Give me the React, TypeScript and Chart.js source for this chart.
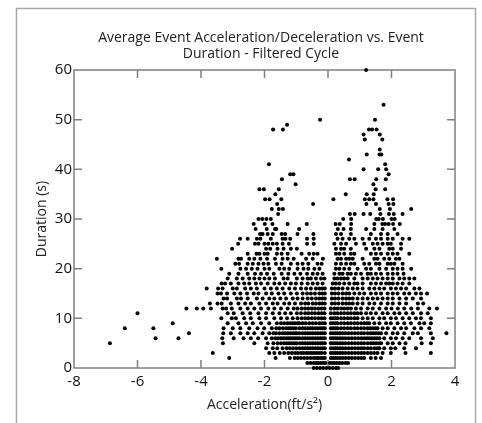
import React, { useEffect, useRef } from "react";
import { Chart, registerables } from "chart.js";

Chart.register(...registerables);

const titleLines = ["Average Event Acceleration/Deceleration vs. Event", "Duration - Filtered Cycle"];
const xAxisTitle = "Acceleration(ft/s²)";
const yAxisTitle = "Duration (s)";
const xTickValues = [-8, -6, -4, -2, 0, 2, 4];
const yTickValues = [0, 10, 20, 30, 40, 50, 60];

// Durations (s) are recorded on whole-second levels 0..35
const durationLevels = [
  0, 1, 2, 3, 4, 5, 6, 7, 8, 9, 10, 11, 12, 13, 14, 15, 16, 17, 18, 19, 20,
  21, 22, 23, 24, 25, 26, 27, 28, 29, 30, 31, 32, 33, 34, 35,
];

// Decelerations (negative accel) at each duration level
const decelAtLevel: number[][] = [
  [-0.45, -0.35, -0.25, -0.15, -0.05],
  [-0.65, -0.55, -0.45, -0.37, -0.3, -0.22, -0.15, -0.08],
  [-3.11, -1.65, -1.2, -1.05, -0.95, -0.85, -0.75, -0.65, -0.55, -0.45, -0.37, -0.3, -0.22, -0.16, -0.1],
  [-3.63, -1.85, -1.69, -1.52, -1.38, -1.25, -1.14, -1.04, -0.95, -0.85, -0.77, -0.68, -0.6, -0.52, -0.44, -0.36, -0.28, -0.2, -0.1],
  [-1.95, -1.74, -1.6, -1.43, -1.3, -1.2, -1.1, -1.0, -0.9, -0.8, -0.72, -0.64, -0.56, -0.48, -0.4, -0.32, -0.24, -0.17, -0.1],
  [-6.87, -3.31, -2.32, -1.9, -1.72, -1.59, -1.48, -1.38, -1.3, -1.22, -1.14, -1.06, -0.98, -0.88, -0.8, -0.72, -0.64, -0.56, -0.48, -0.4, -0.32, -0.24, -0.17, -0.1],
  [-5.43, -4.71, -3.33, -2.97, -2.66, -2.43, -2.2, -1.95, -1.77, -1.66, -1.57, -1.48, -1.4, -1.32, -1.25, -1.18, -1.11, -1.04, -0.97, -0.9, -0.8, -0.72, -0.64, -0.56, -0.48, -0.4, -0.32, -0.24, -0.17, -0.1],
  [-4.38, -3.3, -3.06, -2.76, -2.53, -2.32, -2.06, -1.85, -1.72, -1.64, -1.53, -1.43, -1.35, -1.27, -1.19, -1.11, -1.04, -0.98, -0.9, -0.8, -0.72, -0.64, -0.56, -0.48, -0.4, -0.32, -0.24, -0.17, -0.1],
  [-6.4, -5.5, -3.29, -3.0, -2.76, -2.48, -2.22, -2.01, -1.77, -1.63, -1.53, -1.42, -1.32, -1.24, -1.17, -1.09, -1.01, -0.9, -0.8, -0.72, -0.64, -0.56, -0.48, -0.4, -0.32, -0.24, -0.17, -0.1],
  [-4.89, -3.16, -2.82, -2.58, -2.37, -2.11, -1.85, -1.61, -1.48, -1.38, -1.28, -1.19, -1.11, -1.04, -0.96, -0.9, -0.8, -0.7, -0.59, -0.48, -0.38, -0.27, -0.18, -0.1],
  [-3.36, -3.03, -2.9, -2.64, -2.43, -2.16, -1.95, -1.69, -1.48, -1.29, -1.11, -0.96, -0.83, -0.72, -0.62, -0.51, -0.41, -0.3, -0.2, -0.11],
  [-6.0, -3.16, -2.97, -2.69, -2.45, -2.19, -1.95, -1.74, -1.53, -1.35, -1.17, -0.98, -0.85, -0.72, -0.62, -0.51, -0.41, -0.3, -0.2, -0.11],
  [-4.46, -4.13, -3.93, -3.69, -3.32, -3.21, -3.03, -2.76, -2.53, -2.32, -2.11, -1.88, -1.69, -1.48, -1.27, -1.08, -0.96, -0.83, -0.72, -0.62, -0.51, -0.41, -0.3, -0.2, -0.11],
  [-3.72, -3.48, -3.35, -3.06, -2.82, -2.61, -2.43, -2.16, -1.95, -1.74, -1.59, -1.38, -1.22, -1.04, -0.85, -0.72, -0.62, -0.48, -0.38, -0.27, -0.18, -0.1],
  [-3.29, -3.18, -2.87, -2.74, -2.53, -2.24, -2.06, -1.85, -1.69, -1.5, -1.32, -1.11, -0.96, -0.8, -0.64, -0.51, -0.38, -0.27, -0.18, -0.1],
  [-3.48, -3.37, -3.18, -2.95, -2.76, -2.55, -2.34, -2.19, -1.95, -1.77, -1.56, -1.38, -1.17, -0.98, -0.8, -0.66, -0.54, -0.41, -0.27, -0.18, -0.1],
  [-3.82, -3.46, -3.32, -3.0, -2.87, -2.61, -2.43, -2.24, -2.0, -1.8, -1.61, -1.43, -1.22, -1.04, -0.85, -0.69, -0.54, -0.38, -0.27, -0.18, -0.1],
  [-3.35, -3.24, -3.06, -2.82, -2.64, -2.48, -2.27, -2.11, -1.9, -1.69, -1.53, -1.35, -1.17, -1.01, -0.83, -0.64, -0.48, -0.33, -0.17],
  [-3.16, -2.87, -2.69, -2.48, -2.32, -2.16, -2.0, -1.85, -1.67, -1.4, -1.27, -0.98, -0.8, -0.64, -0.54, -0.38, -0.22, -0.11],
  [-3.11, -2.82, -2.53, -2.3, -2.11, -1.92, -1.71, -1.46, -1.25, -1.06, -0.87, -0.66, -0.48, -0.33, -0.17],
  [-3.36, -2.76, -2.58, -2.4, -2.22, -2.0, -1.85, -1.53, -1.38, -1.22, -0.96, -0.77, -0.62, -0.43, -0.27],
  [-2.92, -2.8, -2.53, -2.37, -2.19, -2.03, -1.88, -1.64, -1.46, -1.17, -0.96, -0.8, -0.62, -0.33, -0.2],
  [-3.5, -2.82, -2.74, -2.48, -2.32, -2.13, -1.92, -1.67, -1.43, -1.27, -1.08, -0.69, -0.48, -0.16],
  [-2.53, -2.25, -2.16, -2.0, -1.9, -1.61, -1.46, -1.27, -0.83, -0.59, -0.45, -0.33],
  [-3.02, -1.95, -1.82, -1.59, -1.4, -1.17, -0.98],
  [-2.83, -2.3, -2.19, -2.0, -1.88, -1.74, -1.61, -1.43, -1.23, -0.66, -0.45],
  [-2.77, -2.53, -2.24, -2.13, -1.8, -1.43, -1.34, -1.19, -0.66, -0.45],
  [-2.14, -2.06, -1.9, -1.74, -1.46, -1.35, -0.96, -0.46],
  [-2.28, -1.93, -1.67, -1.63, -0.91],
  [-2.34, -1.99, -1.75, -1.27, -0.67],
  [-2.19, -2.07, -1.94, -1.8],
  [-1.57],
  [-1.77, -1.55, -1.42],
  [-1.6, -0.47],
  [-1.98, -1.84, -1.47],
  [-1.66],
];

// Accelerations (positive) at each duration level
const accelAtLevel: number[][] = [
  [0.05, 0.15, 0.25, 0.32],
  [0.06, 0.13, 0.2, 0.28, 0.36, 0.45, 0.55, 0.63],
  [0.09, 0.16, 0.23, 0.3, 0.38, 0.46, 0.55, 0.65, 0.75, 0.85, 0.95, 1.05, 1.14, 1.35, 1.5, 1.67],
  [0.09, 0.16, 0.23, 0.3, 0.38, 0.46, 0.55, 0.65, 0.75, 0.85, 0.95, 1.05, 1.14, 1.25, 1.35, 1.45, 1.56, 1.72, 1.98, 2.44, 3.24],
  [0.09, 0.16, 0.23, 0.3, 0.38, 0.46, 0.55, 0.65, 0.75, 0.85, 0.95, 1.05, 1.14, 1.25, 1.35, 1.46, 1.55, 1.62, 1.77, 1.98, 2.12, 2.4, 2.77],
  [0.09, 0.16, 0.23, 0.3, 0.38, 0.46, 0.55, 0.65, 0.75, 0.85, 0.95, 1.05, 1.14, 1.25, 1.35, 1.43, 1.51, 1.6, 1.67, 1.88, 2.04, 2.25, 2.44, 2.95, 3.24],
  [0.09, 0.16, 0.23, 0.3, 0.38, 0.46, 0.55, 0.65, 0.75, 0.85, 0.95, 1.05, 1.14, 1.22, 1.3, 1.38, 1.46, 1.54, 1.62, 1.77, 1.98, 2.14, 2.35, 2.56, 2.93, 3.3],
  [0.09, 0.16, 0.23, 0.3, 0.38, 0.46, 0.55, 0.65, 0.75, 0.85, 0.95, 1.05, 1.14, 1.25, 1.35, 1.43, 1.51, 1.59, 1.67, 1.83, 2.04, 2.19, 2.4, 2.67, 2.83, 3.24, 3.73],
  [0.09, 0.16, 0.23, 0.3, 0.41, 0.51, 0.62, 0.72, 0.83, 0.93, 1.04, 1.14, 1.25, 1.33, 1.41, 1.49, 1.56, 1.72, 1.88, 2.09, 2.3, 2.46, 2.72, 2.93, 3.19],
  [0.09, 0.16, 0.23, 0.3, 0.41, 0.51, 0.62, 0.72, 0.83, 0.93, 1.04, 1.14, 1.22, 1.3, 1.46, 1.62, 1.83, 1.98, 2.19, 2.4, 2.61, 2.88, 3.03, 3.24],
  [0.09, 0.16, 0.23, 0.3, 0.41, 0.51, 0.62, 0.72, 0.83, 0.93, 1.09, 1.25, 1.41, 1.62, 1.77, 1.98, 2.14, 2.35, 2.56, 2.77, 2.93, 3.24],
  [0.09, 0.2, 0.3, 0.41, 0.51, 0.62, 0.72, 0.83, 0.93, 1.04, 1.2, 1.35, 1.51, 1.72, 1.88, 2.09, 2.25, 2.46, 2.67, 2.93, 3.14],
  [0.09, 0.2, 0.3, 0.41, 0.51, 0.62, 0.72, 0.88, 1.04, 1.25, 1.41, 1.62, 1.83, 2.0, 2.2, 2.4, 2.62, 2.83, 3.19, 3.43],
  [0.12, 0.22, 0.33, 0.46, 0.57, 0.67, 0.78, 0.93, 1.09, 1.3, 1.46, 1.67, 1.88, 2.04, 2.25, 2.46, 2.83, 3.0],
  [0.12, 0.22, 0.33, 0.46, 0.57, 0.67, 0.78, 0.93, 1.09, 1.25, 1.41, 1.56, 1.72, 1.88, 2.04, 2.25, 2.46, 2.67, 2.93],
  [0.12, 0.22, 0.33, 0.46, 0.57, 0.67, 0.83, 0.99, 1.14, 1.35, 1.51, 1.67, 1.88, 2.04, 2.19, 2.4, 2.56, 2.77, 2.93, 3.12],
  [0.12, 0.22, 0.33, 0.46, 0.62, 0.78, 0.93, 1.09, 1.3, 1.46, 1.62, 1.77, 1.98, 2.14, 2.3, 2.46, 2.72, 2.88],
  [0.15, 0.25, 0.36, 0.51, 0.67, 0.83, 0.93, 1.09, 1.35, 1.51, 1.67, 1.83, 1.93, 2.04, 2.19, 2.35, 2.56],
  [0.2, 0.3, 0.41, 0.51, 0.62, 0.83, 1.09, 1.25, 1.41, 1.56, 1.72, 1.88, 2.04, 2.25, 2.4, 2.56, 2.72],
  [0.2, 0.36, 0.46, 0.62, 0.72, 0.88, 1.04, 1.25, 1.35, 1.51, 1.67, 1.88, 2.04, 2.19, 2.38],
  [0.25, 0.36, 0.51, 0.67, 0.93, 1.2, 1.35, 1.62, 1.83, 2.04, 2.19, 2.35, 2.62],
  [0.25, 0.41, 0.57, 0.72, 0.83, 1.14, 1.3, 1.51, 1.62, 1.88, 1.98, 2.09, 2.35],
  [0.3, 0.41, 0.57, 0.67, 0.78, 1.09, 1.46, 1.56, 1.77, 1.93, 2.14, 2.25],
  [0.25, 0.36, 0.51, 0.72, 0.83, 1.35, 1.51, 1.67, 1.88, 2.04, 2.19, 2.56],
  [0.25, 0.41, 0.51, 0.72, 1.2, 1.46, 1.62, 1.93, 2.04, 2.3],
  [0.2, 0.41, 0.57, 0.88, 1.14, 1.41, 1.56, 1.72, 1.88, 1.98, 2.3],
  [0.3, 0.46, 0.67, 0.83, 1.09, 1.3, 1.51, 1.67, 1.88, 2.04, 2.35, 2.56],
  [0.25, 0.41, 0.72, 1.35, 1.67, 1.88, 2.19],
  [0.31, 0.49, 0.72, 1.2, 1.46, 1.72, 2.09],
  [0.24, 0.37, 0.73, 1.46, 1.71, 1.8, 1.91, 2.05, 2.26],
  [0.48, 0.73, 1.52, 1.6, 1.73, 2.0, 2.1],
  [0.69, 0.84, 1.12, 1.33, 1.65, 1.92, 2.07, 2.35],
  [1.63, 1.95, 2.62],
  [1.21, 1.51, 1.91, 2.06],
  [0.17, 1.16, 1.3, 1.43, 1.87, 2.05],
  [0.56, 1.22, 1.44],
];

// Long events above 35 s
const longEventAccel = [
  -2.16, -2.02, -1.55, 1.5, 1.8,
  -1.02, 1.43,
  -1.45, 0.69, 0.84, 1.52, 1.82,
  -1.19, -1.09, 1.91,
  1.12, 1.58, 1.83,
  -1.86, 1.8,
  0.66,
  1.22, 1.62, 1.68,
  1.63,
  1.16, 1.71,
  1.12, 1.63,
  -1.73, -1.42, 1.29, 1.39, 1.53,
  -1.29,
  -0.25, 1.48,
  1.75,
  1.2,
];
const longEventDuration = [
  36, 36, 36, 36, 36,
  37, 37,
  38, 38, 38, 38, 38,
  39, 39, 39,
  40, 40, 40,
  41, 41,
  42,
  43, 43, 43,
  44,
  46, 46,
  47, 47,
  48, 48, 48, 48, 48,
  49,
  50, 50,
  53,
  60,
];

const FONT = '"Open Sans", "Noto Sans", sans-serif';

const framePlugin = {
  id: "framePlugin",
  beforeDraw(chart: any) {
    const { ctx, width, height } = chart;
    ctx.save();
    ctx.fillStyle = "#ffffff";
    ctx.fillRect(0, 0, width, height);
    ctx.strokeStyle = "#a8a8a8";
    ctx.lineWidth = 1.5;
    ctx.strokeRect(16.5, 8.5, 459, height + 20);
    ctx.fillStyle = "#222222";
    ctx.font = `14px ${FONT}`;
    ctx.textAlign = "center";
    ctx.textBaseline = "middle";
    ctx.fillText(titleLines[0], 261, 38);
    ctx.fillText(titleLines[1], 261, 54);
    ctx.restore();
  },
  beforeDatasetsDraw(chart: any) {
    const { ctx, chartArea, scales } = chart;
    const { left, right, top, bottom } = chartArea;
    ctx.save();
    ctx.strokeStyle = "#7f7f7f";
    ctx.lineWidth = 1.5;
    ctx.strokeRect(left, top, right - left, bottom - top);
    const L = 8;
    ctx.beginPath();
    xTickValues.slice(1, -1).forEach((v) => {
      const px = scales.x.getPixelForValue(v);
      ctx.moveTo(px, bottom);
      ctx.lineTo(px, bottom - L);
      ctx.moveTo(px, top);
      ctx.lineTo(px, top + L);
    });
    yTickValues.slice(1, -1).forEach((v) => {
      const py = scales.y.getPixelForValue(v);
      ctx.moveTo(left, py);
      ctx.lineTo(left + L, py);
      ctx.moveTo(right, py);
      ctx.lineTo(right - L, py);
    });
    ctx.stroke();
    ctx.restore();
  },
};

export default function App() {
  const canvasRef = useRef<HTMLCanvasElement | null>(null);

  useEffect(() => {
    const canvas = canvasRef.current;
    if (!canvas) return;
    const points: { x: number; y: number }[] = [];
    durationLevels.forEach((level, i) => {
      (decelAtLevel[i] || []).forEach((a) => points.push({ x: a, y: level }));
      (accelAtLevel[i] || []).forEach((a) => points.push({ x: a, y: level }));
    });
    longEventAccel.forEach((a, i) => points.push({ x: a, y: longEventDuration[i] }));

    const chart = new Chart(canvas, {
      type: "scatter",
      data: {
        datasets: [
          {
            data: points,
            backgroundColor: "#000000",
            borderWidth: 0,
            pointRadius: 2,
            pointHoverRadius: 2,
            clip: false as any,
          },
        ],
      },
      plugins: [framePlugin],
      options: {
        animation: false,
        responsive: false,
        devicePixelRatio: 1,
        events: [],
        layout: { padding: { top: 70, right: 27, left: 0, bottom: 0 } },
        plugins: {
          legend: { display: false },
          title: { display: false },
          tooltip: { enabled: false },
        },
        scales: {
          x: {
            type: "linear",
            min: -8,
            max: 4,
            afterBuildTicks: (scale: any) => {
              scale.ticks = xTickValues.map((v) => ({ value: v }));
            },
            afterFit: (scale: any) => {
              scale.height = 55;
            },
            grid: { display: false, drawTicks: false },
            border: { display: false },
            ticks: {
              color: "#111111",
              font: { family: FONT, size: 15 },
              padding: 5,
              maxRotation: 0,
              autoSkip: false,
            },
            title: {
              display: true,
              text: xAxisTitle,
              color: "#222222",
              font: { family: FONT, size: 14 },
              padding: { top: 0, bottom: 10 },
            },
          },
          y: {
            type: "linear",
            min: 0,
            max: 60,
            afterBuildTicks: (scale: any) => {
              scale.ticks = yTickValues.map((v) => ({ value: v }));
            },
            afterFit: (scale: any) => {
              scale.width = 74;
            },
            grid: { display: false, drawTicks: false },
            border: { display: false },
            ticks: {
              color: "#111111",
              font: { family: FONT, size: 15 },
              padding: 2,
              autoSkip: false,
            },
            title: {
              display: true,
              text: yAxisTitle,
              color: "#222222",
              font: { family: FONT, size: 14 },
              padding: { top: 34, bottom: 0 },
            },
          },
        },
      },
    });
    return () => chart.destroy();
  }, []);

  return (
    <div style={{ position: "fixed", left: 0, top: 0, width: 482, height: 423, background: "#fff" }}>
      <canvas ref={canvasRef} width={482} height={423} style={{ display: "block" }} />
    </div>
  );
}
